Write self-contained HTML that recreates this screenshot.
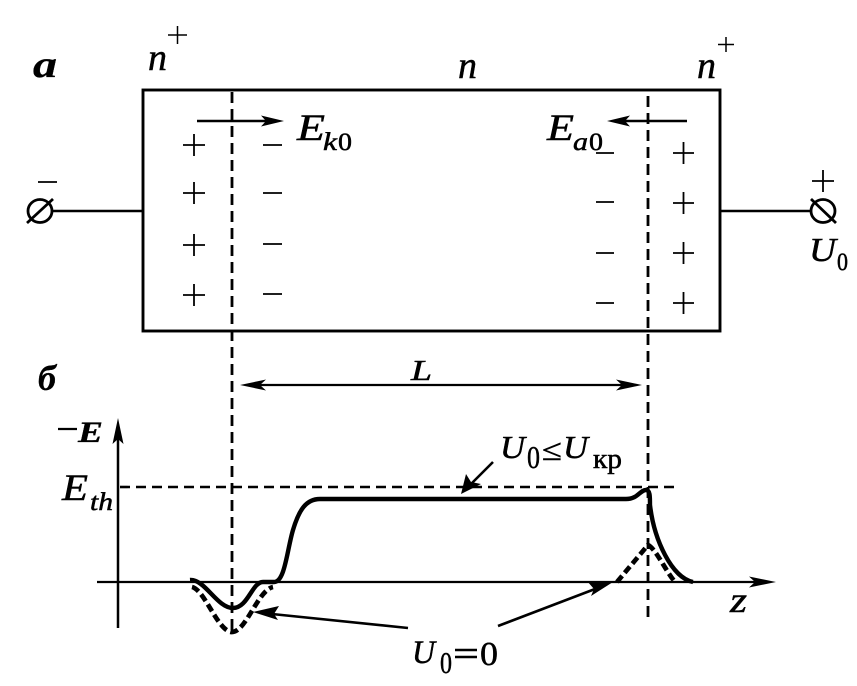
<!DOCTYPE html>
<html><head><meta charset="utf-8"><style>
html,body{margin:0;padding:0;background:#fff;}
svg{display:block;}
text{font-family:"Liberation Serif",serif;fill:#000;stroke:#000;stroke-width:0.5;}
.i{font-style:italic;}
.bi{font-style:italic;font-weight:bold;stroke-width:0.3;}
</style></head><body>
<svg width="857" height="686" viewBox="0 0 857 686" xmlns="http://www.w3.org/2000/svg">
<g stroke="#000" fill="none">
<!-- box -->
<rect x="143" y="90" width="577" height="241" stroke-width="2.9"/>
<!-- terminals -->
<line x1="52" y1="211" x2="143" y2="211" stroke-width="2.4"/>
<line x1="720" y1="211" x2="811" y2="211" stroke-width="2.4"/>
<ellipse cx="40" cy="211" rx="12" ry="11.5" stroke-width="2.8"/>
<line x1="27" y1="223" x2="53" y2="199" stroke-width="2.8"/>
<ellipse cx="823" cy="211" rx="12" ry="11.5" stroke-width="2.8"/>
<line x1="811" y1="199" x2="836" y2="223" stroke-width="2.8"/>
<!-- terminal signs -->
<line x1="38" y1="182" x2="57" y2="182" stroke-width="1.8"/>
<line x1="812" y1="181" x2="834" y2="181" stroke-width="1.8"/>
<line x1="823" y1="170" x2="823" y2="192" stroke-width="1.8"/>
<!-- superscript pluses -->
<line x1="168" y1="35" x2="187" y2="35" stroke-width="1.5"/>
<line x1="177.5" y1="26" x2="177.5" y2="44" stroke-width="1.5"/>
<line x1="718" y1="44.5" x2="734" y2="44.5" stroke-width="1.5"/>
<line x1="726" y1="37" x2="726" y2="52" stroke-width="1.5"/>
<!-- dashed verticals -->
<line x1="232" y1="92" x2="232" y2="630" stroke-width="2.8" stroke-dasharray="11 6"/>
<line x1="648" y1="96" x2="648" y2="621" stroke-width="2.8" stroke-dasharray="11 6"/>
<!-- left pluses -->
<g stroke-width="1.8">
<line x1="183" y1="145" x2="205" y2="145"/><line x1="194" y1="134" x2="194" y2="156"/>
<line x1="183" y1="193" x2="205" y2="193"/><line x1="194" y1="182" x2="194" y2="204"/>
<line x1="183" y1="245" x2="205" y2="245"/><line x1="194" y1="234" x2="194" y2="256"/>
<line x1="183" y1="295" x2="205" y2="295"/><line x1="194" y1="284" x2="194" y2="306"/>
<!-- left minuses -->
<line x1="263" y1="145" x2="282" y2="145"/>
<line x1="263" y1="193" x2="282" y2="193"/>
<line x1="263" y1="244" x2="282" y2="244"/>
<line x1="263" y1="294" x2="282" y2="294"/>
<!-- right minuses -->
<line x1="596" y1="153" x2="614" y2="153"/>
<line x1="596" y1="202" x2="614" y2="202"/>
<line x1="596" y1="253" x2="614" y2="253"/>
<line x1="596" y1="303" x2="614" y2="303"/>
<!-- right pluses -->
<line x1="673" y1="153" x2="694" y2="153"/><line x1="683.5" y1="142" x2="683.5" y2="164"/>
<line x1="673" y1="203" x2="694" y2="203"/><line x1="683.5" y1="192" x2="683.5" y2="214"/>
<line x1="673" y1="253" x2="694" y2="253"/><line x1="683.5" y1="242" x2="683.5" y2="264"/>
<line x1="673" y1="303" x2="694" y2="303"/><line x1="683.5" y1="292" x2="683.5" y2="314"/>
</g>
<!-- field arrows -->
<line x1="197" y1="121" x2="270" y2="121" stroke-width="2.4"/>
<line x1="620" y1="121" x2="687" y2="121" stroke-width="2.4"/>
<!-- L arrow -->
<line x1="250" y1="385" x2="632" y2="385" stroke-width="2.3"/>
<!-- axes -->
<line x1="118" y1="628" x2="118" y2="432" stroke-width="2.5"/>
<line x1="97" y1="582" x2="760" y2="582" stroke-width="2.3"/>
<!-- Eth dashed -->
<line x1="120" y1="487" x2="680" y2="487" stroke-width="2.6" stroke-dasharray="10 6"/>
<!-- solid curve -->
<path d="M190 580 C205 579,217 608,233 608 C248 608,252 582,263 582 L274 582 C285 582,287 550,293 530 C299 510,306 499,320 499 L626 499 C638 499,640 490,646 490 C650 490,650 496,650 505 C654 540,672 578,693 582" stroke-width="4.4" stroke-linejoin="round"/>
<!-- dashed curves -->
<path d="M192 587 C205 590,218 632,232 632 C246 632,258 590,273 587" stroke-width="4.7" stroke-dasharray="8 4"/>
<path d="M617 582 L648 545 C656 549,665 570,675 582" stroke-width="4.7" stroke-dasharray="8 4"/>
<!-- pointer lines -->
<line x1="493" y1="462" x2="470" y2="485" stroke-width="2.6"/>
<line x1="408" y1="628" x2="272" y2="614" stroke-width="2.6"/>
<line x1="498" y1="626" x2="595" y2="589" stroke-width="2.6"/>
<!-- minus of -E -->
<line x1="58" y1="429" x2="77" y2="429" stroke-width="2.2"/>
<!-- = sign -->
<line x1="455" y1="650" x2="477" y2="650" stroke-width="2.6"/>
<line x1="455" y1="657" x2="477" y2="657" stroke-width="2.6"/>
</g>
<!-- arrowheads -->
<g fill="#000" stroke="none">
<polygon points="284,121 261,115.5 266,121 261,126.5"/>
<polygon points="607,121 630,115.5 625,121 630,126.5"/>
<polygon points="240,385 266,379.5 260,385 266,390.5"/>
<polygon points="642,385 616,379.5 622,385 616,390.5"/>
<polygon points="118,418 112.5,444 118,439 123.5,444"/>
<polygon points="776,582 749,576.5 755,582 749,587.5"/>
<polygon points="461,494 466,474 471,482 481,484"/>
<polygon points="253,612 279,606 274,614 278,620"/>
<polygon points="613,582 587,581 594,589 591,596"/>
</g>
<!-- text -->
<text class="bi" x="33" y="77" font-size="38" textLength="24" lengthAdjust="spacingAndGlyphs">а</text>
<text class="i" x="148" y="70" font-size="38" textLength="19" lengthAdjust="spacingAndGlyphs">n</text>
<text class="i" x="458" y="78" font-size="38" textLength="19" lengthAdjust="spacingAndGlyphs">n</text>
<text class="i" x="697" y="78" font-size="38" textLength="19" lengthAdjust="spacingAndGlyphs">n</text>
<text class="i" x="297" y="140" font-size="37" textLength="28" lengthAdjust="spacingAndGlyphs">E</text>
<text class="i" x="323" y="150" font-size="25" textLength="14" lengthAdjust="spacingAndGlyphs">k</text>
<text x="338" y="150" font-size="25" textLength="14" lengthAdjust="spacingAndGlyphs">0</text>
<text class="i" x="547" y="140" font-size="37" textLength="27" lengthAdjust="spacingAndGlyphs">E</text>
<text class="i" x="573" y="150" font-size="25" textLength="15" lengthAdjust="spacingAndGlyphs">a</text>
<text x="589" y="150" font-size="25" textLength="14" lengthAdjust="spacingAndGlyphs">0</text>
<text class="i" x="809" y="261" font-size="34" textLength="27" lengthAdjust="spacingAndGlyphs">U</text>
<text x="837" y="270" font-size="25" textLength="11" lengthAdjust="spacingAndGlyphs">0</text>
<text class="bi" x="38" y="390" font-size="36" textLength="18" lengthAdjust="spacingAndGlyphs">б</text>
<text class="i" x="411" y="380" font-size="28" textLength="21" lengthAdjust="spacingAndGlyphs">L</text>
<text class="bi" x="78" y="442" font-size="30" textLength="25" lengthAdjust="spacingAndGlyphs">E</text>
<text class="i" x="62" y="500" font-size="37" textLength="26" lengthAdjust="spacingAndGlyphs">E</text>
<text class="i" x="90" y="510" font-size="25" textLength="23" lengthAdjust="spacingAndGlyphs">th</text>
<text class="i" x="500" y="458" font-size="32" textLength="25" lengthAdjust="spacingAndGlyphs">U</text>
<text x="527" y="468" font-size="32" textLength="13" lengthAdjust="spacingAndGlyphs">0</text>
<text x="542" y="460" font-size="30" textLength="20" lengthAdjust="spacingAndGlyphs">≤</text>
<text class="i" x="563" y="458" font-size="32" textLength="25" lengthAdjust="spacingAndGlyphs">U</text>
<text x="593" y="468" font-size="28" textLength="29" lengthAdjust="spacingAndGlyphs">кр</text>
<text class="i" x="412" y="663" font-size="33" textLength="23" lengthAdjust="spacingAndGlyphs">U</text>
<text x="440" y="673" font-size="31" textLength="12" lengthAdjust="spacingAndGlyphs">0</text>
<text x="480" y="665" font-size="34" textLength="18" lengthAdjust="spacingAndGlyphs">0</text>
<text class="i" x="730" y="612" font-size="36" textLength="17" lengthAdjust="spacingAndGlyphs">z</text>
</svg>
</body></html>
